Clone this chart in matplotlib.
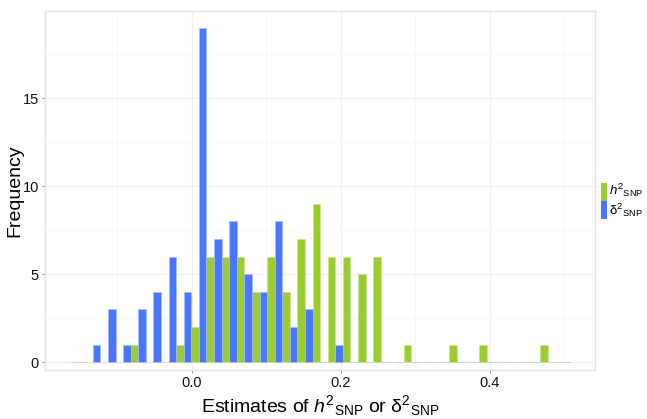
import numpy as np
import matplotlib
matplotlib.use("Agg")
import matplotlib.pyplot as plt
from matplotlib.patches import Rectangle

plt.rcParams['font.family'] = ['Liberation Sans', 'DejaVu Sans']
plt.rcParams['mathtext.fontset'] = 'custom'
plt.rcParams['mathtext.rm'] = 'Liberation Sans'
plt.rcParams['mathtext.it'] = 'Liberation Sans:italic'
plt.rcParams['mathtext.bf'] = 'Liberation Sans:bold'

# histogram bins (33 bins)
bin_start = -0.1634
bin_width = 0.02034
h2_counts = [0, 0, 0, 0, 1, 0, 0, 1, 2, 6, 6, 6, 4, 6, 4, 7, 9, 6, 6, 5, 6,
             0, 1, 0, 0, 1, 0, 1, 0, 0, 0, 1, 0]
d2_counts = [0, 1, 3, 1, 3, 4, 6, 4, 19, 7, 8, 5, 4, 8, 2, 3, 0, 1, 0, 0, 0,
             0, 0, 0, 0, 0, 0, 0, 0, 0, 0, 0, 0]
series_labels = [r'$h^{2}{}_{\mathrm{SNP}}$', r'$\mathrm{δ}^{2}{}_{\mathrm{SNP}}$']
series_colors = ['#9ACD32', '#4876FF']
edge_colors = ['#C9E88F', '#A9BEFF']

x_major = [0.0, 0.2, 0.4]
x_minor = [-0.1, 0.1, 0.3, 0.5]
y_major = [0, 5, 10, 15]
y_minor = [2.5, 7.5, 12.5, 17.5]

fig = plt.figure(figsize=(6.47, 4.19), dpi=100)
ax = fig.add_axes([45/647, 1-370/419, 550/647, 359/419])

n = len(h2_counts)
lefts = bin_start + bin_width*np.arange(n)
half = bin_width/2
ax.bar(lefts, h2_counts, width=half, align='edge', color=series_colors[0],
       edgecolor=edge_colors[0], linewidth=0.5, zorder=3)
ax.bar(lefts+half, d2_counts, width=half, align='edge', color=series_colors[1],
       edgecolor=edge_colors[1], linewidth=0.5, zorder=3)

ax.set_xlim(-0.197, 0.541)
ax.set_ylim(-0.44, 19.95)
ax.set_xticks(x_major)
ax.set_xticklabels(['0.0', '0.2', '0.4'])
ax.set_xticks(x_minor, minor=True)
ax.set_yticks(y_major)
ax.set_yticks(y_minor, minor=True)
ax.grid(True, which='major', color='#F0F0F0', linewidth=0.9, zorder=0)
ax.grid(True, which='minor', color='#F6F6F6', linewidth=0.6, zorder=0)
ax.tick_params(which='major', length=2.5, width=0.6, color='#888888',
               labelsize=10.5, labelcolor='#111111', pad=2)
ax.tick_params(which='minor', length=0)
for s in ax.spines.values():
    s.set_color('#E3E3E3')
    s.set_linewidth(1.0)

ax.set_xlabel(r'Estimates of $h^{2}{}_{\mathrm{SNP}}$ or $\mathrm{δ}^{2}{}_{\mathrm{SNP}}$',
              fontsize=14, labelpad=2)
ax.set_ylabel('Frequency', fontsize=14)
ax.yaxis.set_label_coords(-0.04, 0.5)

# legend drawn manually at right
for i, (lab, col) in enumerate(zip(series_labels, series_colors)):
    y0 = 1 - (201 + 18*i)/419
    fig.add_artist(Rectangle((601/647, y0), 6/647, 18/419, transform=fig.transFigure,
                             facecolor=col, edgecolor='none'))
    fig.text(609/647, 1 - (190 + 20*i)/419, lab, fontsize=9.5, va='center', ha='left')

fig.savefig('out.png', dpi=100)
